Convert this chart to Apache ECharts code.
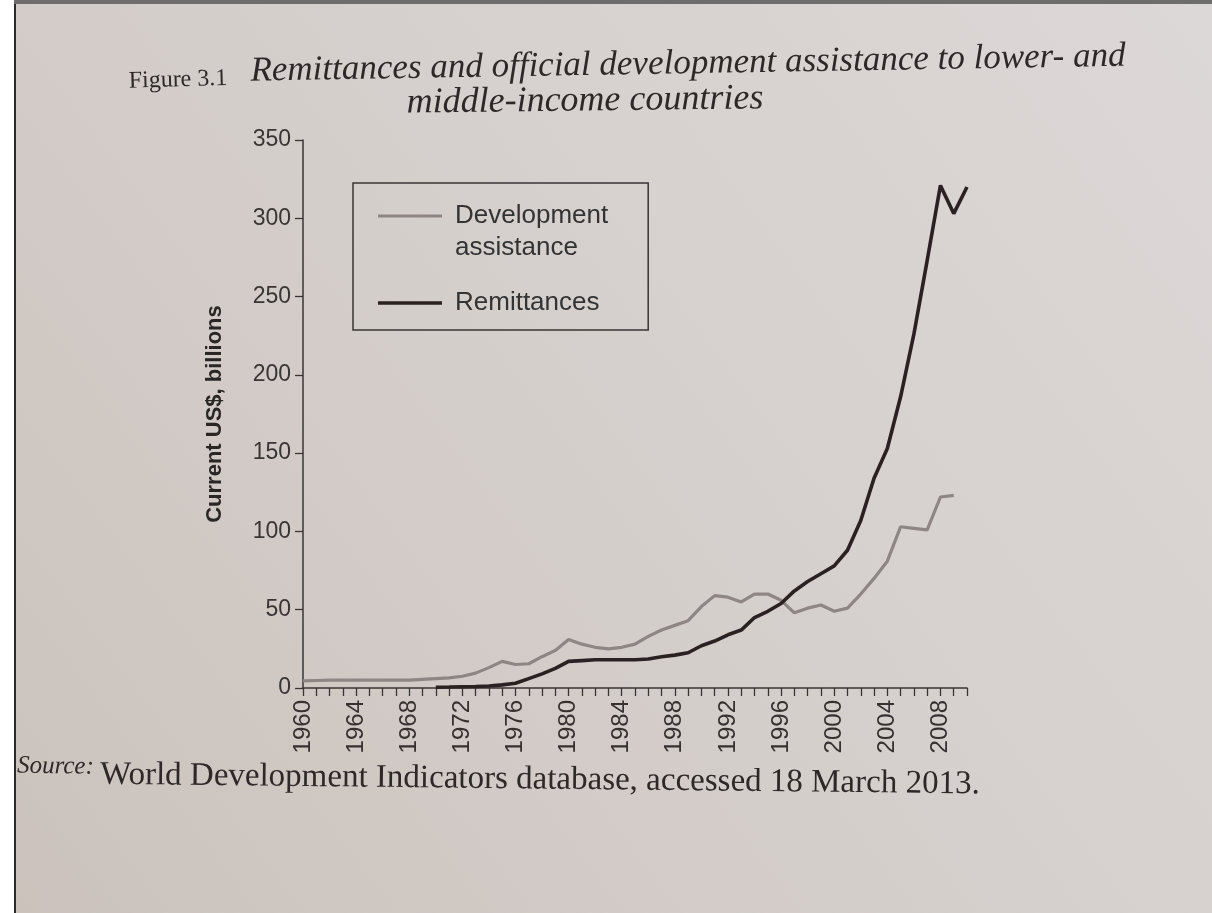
<!DOCTYPE html>
<html>
<head>
<meta charset="utf-8">
<script src="https://cdn.jsdelivr.net/npm/echarts@6/dist/echarts.min.js"></script>
<style>
  html, body { margin: 0; padding: 0; }
  #chart { width: 1212px; height: 913px; }
</style>
</head>
<body>
<div id="chart"></div>
<script>
// Categories: years shown on the x axis
const years = ['1960','1961','1962','1963','1964','1965','1966','1967','1968','1969',
  '1970','1971','1972','1973','1974','1975','1976','1977','1978','1979',
  '1980','1981','1982','1983','1984','1985','1986','1987','1988','1989',
  '1990','1991','1992','1993','1994','1995','1996','1997','1998','1999',
  '2000','2001','2002','2003','2004','2005','2006','2007','2008','2009','2010'];

// Official development assistance, current US$ billions
const devAssistance = [4.5, 4.8, 5, 5, 5, 5, 5, 5, 5, 5.5,
  6, 6.5, 7.5, 9.5, 13, 17, 15, 15.5, 20, 24,
  31, 28, 26, 25, 26, 28, 33, 37, 40, 43,
  52, 59, 58, 55, 60, 60, 56, 48, 51, 53,
  49, 51, 60, 70, 81, 103, 102, 101, 122, 123, null];

// Remittances, current US$ billions
const remittances = [null, null, null, null, null, null, null, null, null, null,
  0.5, 0.6, 0.8, 1, 1.3, 2, 3, 6, 9, 12.5,
  17, 17.5, 18, 18, 18, 18, 18.5, 20, 21, 22.5,
  27, 30, 34, 37, 45, 49, 54, 62, 68, 73,
  78, 88, 107, 134, 153, 186, 226, 273, 321, 303, 320];

// Y-axis tick settings
const yTickMin = 0;
const yTickMax = 350;
const yTickStep = 50;

const seriesNames = ['Development assistance', 'Remittances'];

const chart = echarts.init(document.getElementById('chart'), null, { renderer: 'canvas' });

const serif = '"Liberation Serif", "DejaVu Serif", serif';
const sans = '"Liberation Sans", Arial, sans-serif';
const ink = '#2e2828';

chart.setOption({
  backgroundColor: {
    type: 'linear', x: 1, y: 0, x2: 0, y2: 1,
    colorStops: [
      { offset: 0, color: '#dcd8d7' },
      { offset: 0.5, color: '#d5cfcc' },
      { offset: 1, color: '#cbc2bc' }
    ]
  },
  animation: false,
  graphic: [
    { type: 'rect', left: 0, top: 0, shape: { width: 14, height: 913 }, style: { fill: '#ffffff' }, z: 10 },
    { type: 'rect', left: 14, top: 0, shape: { width: 2, height: 913 }, style: { fill: '#2a2a2a' }, z: 10 },
    { type: 'rect', left: 14, top: 0, shape: { width: 1198, height: 4 }, style: { fill: '#6e6c6c' }, z: 10 },
    {
      type: 'text', x: 178, y: 80, rotation: 0.03,
      style: { text: 'Figure 3.1', font: '24px ' + serif, fill: ink, textAlign: 'center', textVerticalAlign: 'middle' }
    },
    {
      type: 'text', x: 688, y: 64, rotation: 0.017,
      style: { text: 'Remittances and official development assistance to lower- and', font: 'italic 35px ' + serif, fill: ink, textAlign: 'center', textVerticalAlign: 'middle' }
    },
    {
      type: 'text', x: 585, y: 101, rotation: 0.012,
      style: { text: 'middle-income countries', font: 'italic 36px ' + serif, fill: ink, textAlign: 'center', textVerticalAlign: 'middle' }
    },
    {
      type: 'text', x: 17, y: 766, rotation: -0.015,
      style: { text: 'Source:', font: 'italic 25px ' + serif, fill: ink, textAlign: 'left', textVerticalAlign: 'middle' }
    },
    {
      type: 'text', x: 100, y: 775, rotation: -0.011,
      style: { text: 'World Development Indicators database, accessed 18 March 2013.', font: '33px ' + serif, fill: ink, textAlign: 'left', textVerticalAlign: 'middle' }
    }
  ],
  grid: { left: 303, right: 245, top: 140, bottom: 225, containLabel: false },
  legend: {
    orient: 'vertical',
    left: 353, top: 183,
    borderColor: '#3a3434', borderWidth: 1.5, borderRadius: 0,
    padding: [17, 40, 7, 25],
    itemGap: 19,
    itemWidth: 64, itemHeight: 40,
    itemStyle: { borderWidth: 0 },
    textStyle: { fontSize: 26, lineHeight: 32, color: '#333', fontFamily: sans, padding: [0, 0, 0, 8] },
    formatter: function (name) { return name === seriesNames[0] ? 'Development\nassistance' : name; },
    data: [
      { name: seriesNames[0], icon: 'path://M0,0L0.01,0L0.01,0.01Z M0,2.5L64,2.5L64,5.5L0,5.5Z M0,40L0.01,40L0.01,39.99Z' },
      { name: seriesNames[1], icon: 'path://M0,0L0.01,0L0.01,0.01Z M0,18.2L64,18.2L64,21.8L0,21.8Z M0,40L0.01,40L0.01,39.99Z' }
    ]
  },
  xAxis: {
    type: 'category',
    data: years,
    boundaryGap: false,
    axisLine: { lineStyle: { color: '#3a3434', width: 1.5 } },
    axisTick: { interval: 0, length: 8, lineStyle: { color: '#3a3434', width: 1.3 } },
    axisLabel: { interval: 3, rotate: 90, fontSize: 24, color: '#363030', fontFamily: sans, margin: 12 },
    splitLine: { show: false }
  },
  yAxis: {
    type: 'value',
    min: yTickMin, max: yTickMax, interval: yTickStep,
    name: 'Current US$, billions',
    nameLocation: 'middle',
    nameGap: 77,
    nameTextStyle: { fontWeight: 'bold', fontSize: 22, fontFamily: sans, color: '#2b2626' },
    axisLine: { show: true, lineStyle: { color: '#3a3434', width: 1.5 } },
    axisTick: { show: true, length: 8, lineStyle: { color: '#3a3434', width: 1.3 } },
    axisLabel: { fontSize: 23, color: '#3a3535', fontFamily: sans, margin: 12 },
    splitLine: { show: false }
  },
  series: [
    {
      name: seriesNames[0], type: 'line', data: devAssistance,
      showSymbol: false, symbol: 'none', connectNulls: false,
      color: '#8d8684',
      lineStyle: { color: '#8d8684', width: 3.2 },
      z: 2
    },
    {
      name: seriesNames[1], type: 'line', data: remittances,
      showSymbol: false, symbol: 'none', connectNulls: false,
      color: '#2a2222',
      lineStyle: { color: '#2a2222', width: 3.6 },
      z: 3
    }
  ]
});
</script>
</body>
</html>
